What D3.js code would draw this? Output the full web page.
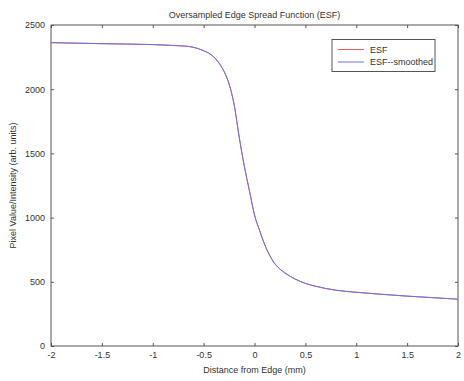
<!DOCTYPE html>
<html>
<head>
<meta charset="utf-8">
<script src="https://cdn.jsdelivr.net/npm/d3@7"></script>
<style>
    body { margin: 0; background: #fff; }
    text { font-family: Arial, "Liberation Sans", sans-serif; fill: #333; }
</style>
</head>
<body>
<div id="chart"></div>
<script>
// distance from edge (mm)
var distance = [-2, -1.5, -1, -0.8, -0.7, -0.6, -0.5, -0.45, -0.4, -0.35, -0.3, -0.25, -0.2, -0.15, -0.1, -0.05,
    0, 0.05, 0.1, 0.15, 0.2, 0.25, 0.3, 0.4, 0.5, 0.6, 0.8, 1, 1.25, 1.5, 1.75, 2];
// raw ESF
var esf = [2363, 2354, 2348, 2340, 2336, 2327, 2299, 2281, 2251, 2206, 2139, 2041, 1879, 1626, 1401, 1209,
    1021, 899, 791, 704, 641, 599, 569, 521, 488, 465, 435, 419, 402, 389, 376, 365];
// smoothed ESF
var esfSmoothed = [2362, 2355, 2347, 2341, 2337, 2326, 2300, 2280, 2252, 2205, 2140, 2040, 1880, 1625, 1400, 1210,
    1020, 900, 790, 705, 640, 600, 568, 522, 487, 466, 434, 418, 403, 388, 377, 364];
var xTicks = [-2, -1.5, -1, -0.5, 0, 0.5, 1, 1.5, 2];
var yTicks = [0, 500, 1000, 1500, 2000, 2500];
var legendNames = ["ESF", "ESF--smoothed"];
var colors = ["#e06060", "#7070e2"];

var W = 464, H = 381;
var mLeft = 51, mRight = 458, mTop = 25, mBottom = 346;

var svg = d3.select("#chart").append("svg").attr("width", W).attr("height", H);

var x = d3.scaleLinear().domain([-2, 2]).range([mLeft, mRight]);
var y = d3.scaleLinear().domain([0, 2500]).range([mBottom, mTop]);

//坐标轴, ticks inside like matlab
var axColor = "#555";
svg.append("rect")
    .attr("x", mLeft).attr("y", mTop)
    .attr("width", mRight - mLeft).attr("height", mBottom - mTop)
    .attr("fill", "none").attr("stroke", axColor).attr("stroke-width", 1);

function styleAxis(g) {
    g.select(".domain").remove();
    g.selectAll(".tick line").attr("stroke", axColor);
    g.selectAll(".tick text").style("font-size", "9px").attr("fill", "#333");
}

svg.append("g").attr("transform", "translate(0," + mBottom + ")")
    .call(d3.axisBottom(x).tickValues(xTicks).tickSizeInner(-3).tickPadding(6)
        .tickFormat(function (d) { return String(d); }))
    .call(styleAxis);
svg.append("g").attr("transform", "translate(0," + mTop + ")")
    .call(d3.axisTop(x).tickValues(xTicks).tickSizeInner(-3).tickFormat(""))
    .call(styleAxis);
svg.append("g").attr("transform", "translate(" + mLeft + ",0)")
    .call(d3.axisLeft(y).tickValues(yTicks).tickSizeInner(-3).tickPadding(6)
        .tickFormat(function (d) { return String(d); }))
    .call(styleAxis);
svg.append("g").attr("transform", "translate(" + mRight + ",0)")
    .call(d3.axisRight(y).tickValues(yTicks).tickSizeInner(-3).tickFormat(""))
    .call(styleAxis);

// lines
var series = [esf, esfSmoothed];
series.forEach(function (vals, i) {
    var line = d3.line()
        .x(function (d, j) { return x(distance[j]); })
        .y(function (d) { return y(d); })
        .curve(d3.curveMonotoneX);
    svg.append("path")
        .datum(vals)
        .attr("fill", "none")
        .attr("stroke", colors[i])
        .attr("stroke-width", 1)
        .attr("d", line);
});

// title & labels
svg.append("text").attr("x", (mLeft + mRight) / 2).attr("y", 18)
    .attr("text-anchor", "middle").style("font-size", "9px")
    .text("Oversampled Edge Spread Function (ESF)");
svg.append("text").attr("x", (mLeft + mRight) / 2).attr("y", 373)
    .attr("text-anchor", "middle").style("font-size", "9px")
    .text("Distance from Edge (mm)");
svg.append("text")
    .attr("transform", "translate(16," + ((mTop + mBottom) / 2) + ") rotate(-90)")
    .attr("text-anchor", "middle").style("font-size", "9px")
    .text("Pixel Value/Intensity (arb. units)");

// legend
var lg = svg.append("g");
lg.append("rect").attr("x", 332).attr("y", 39.5).attr("width", 103).attr("height", 32)
    .attr("fill", "#fff").attr("stroke", axColor).attr("stroke-width", 1);
legendNames.forEach(function (name, i) {
    var ly = 49.5 + i * 12.5;
    lg.append("line").attr("x1", 338).attr("x2", 364).attr("y1", ly).attr("y2", ly)
        .attr("stroke", colors[i]).attr("stroke-width", 1);
    lg.append("text").attr("x", 370).attr("y", ly + 3).style("font-size", "9px").text(name);
});
</script>
</body>
</html>
